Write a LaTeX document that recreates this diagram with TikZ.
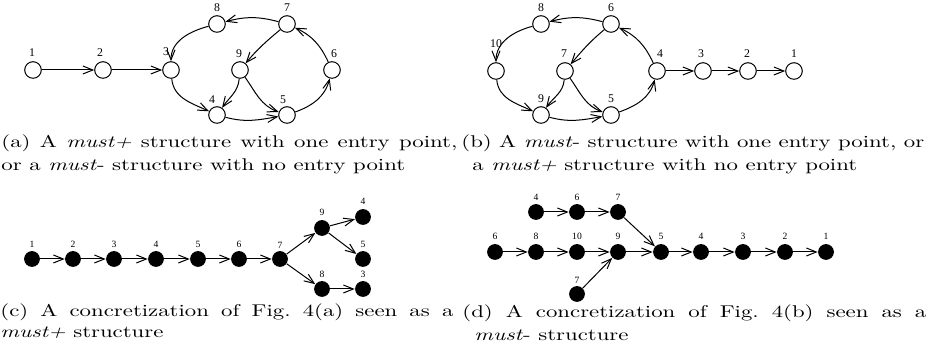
\documentclass[tikz,border=0pt]{standalone}
\usepackage{fontspec}
\usepackage{graphicx}
\newfontfamily\labfont{Liberation Serif}
\usetikzlibrary{arrows.meta,shapes.geometric}
\newcommand{\capsx}{1.14}
\newcommand{\capsy}{0.85}
\newcommand{\jline}[2]{\scalebox{\capsx}[\capsy]{\makebox[#1][s]{#2}}}
\newcommand{\nline}[1]{\scalebox{\capsx}[\capsy]{#1}}
\begin{document}
\begin{tikzpicture}[x=0.5pt,y=-0.5pt,
  oc/.style={draw, circle, minimum size=8.3pt, inner sep=0pt, line width=0.5pt},
  fc/.style={fill=black, circle, minimum size=7.9pt, inner sep=0pt},
  lab/.style={inner sep=0pt, font=\labfont\fontsize{5.9pt}{6pt}\selectfont},
  slab/.style={inner sep=0pt, font=\labfont\fontsize{4.8pt}{5pt}\selectfont},
  arr/.style={line width=0.5pt, -{Straight Barb[length=5pt,width=4pt]}},
  captext/.style={anchor=base west, inner sep=0pt}
]
\useasboundingbox (0,0) rectangle (928,356);

% ---------- (a) ----------
\node[oc] (a1) at (33,70) {};
\node[oc] (a2) at (103,70) {};
\node[oc] (a3) at (171,70) {};
\node[oc] (a8) at (217,24) {};
\node[oc] (a7) at (287,24) {};
\node[oc] (a9) at (240,70) {};
\node[oc] (a6) at (332,70) {};
\node[oc] (a4) at (217,115) {};
\node[oc] (a5) at (287,115) {};
\node[lab] (la1) at (32,53) {1};
\node[lab] (la2) at (100,53) {2};
\node[lab] (la3) at (166,52) {3};
\node[lab] (la8) at (217,8) {8};
\node[lab] (la7) at (287,8) {7};
\node[lab] (la9) at (239,54) {9};
\node[lab] (la6) at (334,54) {6};
\node[lab] (la4) at (212,100) {4};
\node[lab] (la5) at (283,100) {5};
\draw[arr] (a1) -- (a2);
\draw[arr] (a2) -- (a3);
\draw[arr] (a3) to[out=-85,in=155] (a4);
\draw[arr] (a8) to[out=195,in=90] (a3);
\draw[arr] (a7) to[out=165,in=15] (a8);
\draw[arr] (a7) to[out=220,in=50] (a9);
\draw[arr] (a9) to[out=-95,in=55] (a4);
\draw[arr] (a9) to[out=-55,in=160] (a5);
\draw[arr] (a4) to[out=-15,in=190] (a5);
\draw[arr] (a5) to[out=20,in=-105] (a6);
\draw[arr] (a6) to[out=115,in=-25] (a7);

% ---------- (b) ----------
\node[oc] (b8) at (541,24) {};
\node[oc] (b6) at (611,24) {};
\node[oc] (b10) at (496,71) {};
\node[oc] (b7) at (565,71) {};
\node[oc] (b4) at (657,71) {};
\node[oc] (b3) at (703,71) {};
\node[oc] (b2) at (748,71) {};
\node[oc] (b1) at (794,71) {};
\node[oc] (b9) at (541,115) {};
\node[oc] (b5) at (611,115) {};
\node[lab] (lb8) at (541,8) {8};
\node[lab] (lb6) at (611,8) {6};
\node[lab] (lb10) at (496,44) {10};
\node[lab] (lb7) at (564,54) {7};
\node[lab] (lb4) at (660,54) {4};
\node[lab] (lb3) at (701,54) {3};
\node[lab] (lb2) at (747,54) {2};
\node[lab] (lb1) at (794,54) {1};
\node[lab] (lb9) at (541,99) {9};
\node[lab] (lb5) at (611,99) {5};
\draw[arr] (b6) to[out=165,in=15] (b8);
\draw[arr] (b8) to[out=195,in=90] (b10);
\draw[arr] (b10) to[out=-85,in=155] (b9);
\draw[arr] (b9) to[out=-15,in=190] (b5);
\draw[arr] (b6) to[out=220,in=50] (b7);
\draw[arr] (b7) to[out=-95,in=55] (b9);
\draw[arr] (b7) to[out=-55,in=160] (b5);
\draw[arr] (b5) to[out=20,in=-105] (b4);
\draw[arr] (b4) to[out=115,in=-25] (b6);
\draw[arr] (b4) -- (b3);
\draw[arr] (b3) -- (b2);
\draw[arr] (b2) -- (b1);

% ---------- (c) ----------
\node[fc] (c1) at (32,259) {};
\node[fc] (c2) at (73,259) {};
\node[fc] (c3) at (114,259) {};
\node[fc] (c4) at (156,259) {};
\node[fc] (c5) at (198,259) {};
\node[fc] (c6) at (239,259) {};
\node[fc] (c7) at (280,259) {};
\node[fc] (c9) at (322,228) {};
\node[fc] (c4b) at (363,217) {};
\node[fc] (c5b) at (363,259) {};
\node[fc] (c8) at (322,289) {};
\node[fc] (c3b) at (363,289) {};
\node[slab] (lc1) at (32,244) {1};
\node[slab] (lc2) at (73,244) {2};
\node[slab] (lc3) at (114,244) {3};
\node[slab] (lc4) at (156,244) {4};
\node[slab] (lc5) at (198,244) {5};
\node[slab] (lc6) at (239,244) {6};
\node[slab] (lc7) at (280,245) {7};
\node[slab] (lc9) at (322,212) {9};
\node[slab] (lc4b) at (363,201) {4};
\node[slab] (lc5b) at (363,244) {5};
\node[slab] (lc8) at (322,274) {8};
\node[slab] (lc3b) at (363,274) {3};
\draw[arr] (c1) -- (c2);
\draw[arr] (c2) -- (c3);
\draw[arr] (c3) -- (c4);
\draw[arr] (c4) -- (c5);
\draw[arr] (c5) -- (c6);
\draw[arr] (c6) -- (c7);
\draw[arr] (c7) -- (c9);
\draw[arr] (c7) -- (c8);
\draw[arr] (c9) -- (c4b);
\draw[arr] (c9) -- (c5b);
\draw[arr] (c8) -- (c3b);

% ---------- (d) ----------
\node[fc] (dt4) at (536,212) {};
\node[fc] (dt6) at (577,212) {};
\node[fc] (dt7) at (618,212) {};
\node[fc] (d6) at (495,252) {};
\node[fc] (d8) at (536,252) {};
\node[fc] (d10) at (577,252) {};
\node[fc] (d9) at (618,252) {};
\node[fc] (d5) at (661,252) {};
\node[fc] (d4) at (701,252) {};
\node[fc] (d3) at (743,252) {};
\node[fc] (d2) at (785,252) {};
\node[fc] (d1) at (826,252) {};
\node[fc] (db7) at (577,294) {};
\node[slab] (ldt4) at (536,197) {4};
\node[slab] (ldt6) at (577,197) {6};
\node[slab] (ldt7) at (618,197) {7};
\node[slab] (ld6) at (495,236) {6};
\node[slab] (ld8) at (536,236) {8};
\node[slab] (ld10) at (577,236) {10};
\node[slab] (ld9) at (618,236) {9};
\node[slab] (ld5) at (661,236) {5};
\node[slab] (ld4) at (701,236) {4};
\node[slab] (ld3) at (743,236) {3};
\node[slab] (ld2) at (785,236) {2};
\node[slab] (ld1) at (826,236) {1};
\node[slab] (ldb7) at (577,280) {7};
\draw[arr] (dt4) -- (dt6);
\draw[arr] (dt6) -- (dt7);
\draw[arr] (dt7) -- (d5);
\draw[arr] (d6) -- (d8);
\draw[arr] (d8) -- (d10);
\draw[arr] (d10) -- (d9);
\draw[arr] (d9) -- (d5);
\draw[arr] (d5) -- (d4);
\draw[arr] (d4) -- (d3);
\draw[arr] (d3) -- (d2);
\draw[arr] (d2) -- (d1);
\draw[arr] (db7) -- (d9);

% ---------- captions ----------
\node[captext] (capa1) at (1,148) {\jline{200pt}{(a) A \textit{must+} structure with one entry point,}};
\node[captext] (capa2) at (1,171) {\nline{or a \textit{must}- structure with no entry point}};
\node[captext] (capb1) at (461,148) {\jline{203pt}{(b) A \textit{must}- structure with one entry point, or}};
\node[captext] (capb2) at (472,171) {\nline{a \textit{must+} structure with no entry point}};
\node[captext] (capc1) at (0,317) {\jline{198.7pt}{(c) A concretization of Fig.\ 4(a) seen as a}};
\node[captext] (capc2) at (0,338) {\nline{\textit{must+} structure}};
\node[captext] (capd1) at (462,318) {\jline{203.5pt}{(d) A concretization of Fig.\ 4(b) seen as a}};
\node[captext] (capd2) at (474,341) {\nline{\textit{must}- structure}};
\end{tikzpicture}
\end{document}
